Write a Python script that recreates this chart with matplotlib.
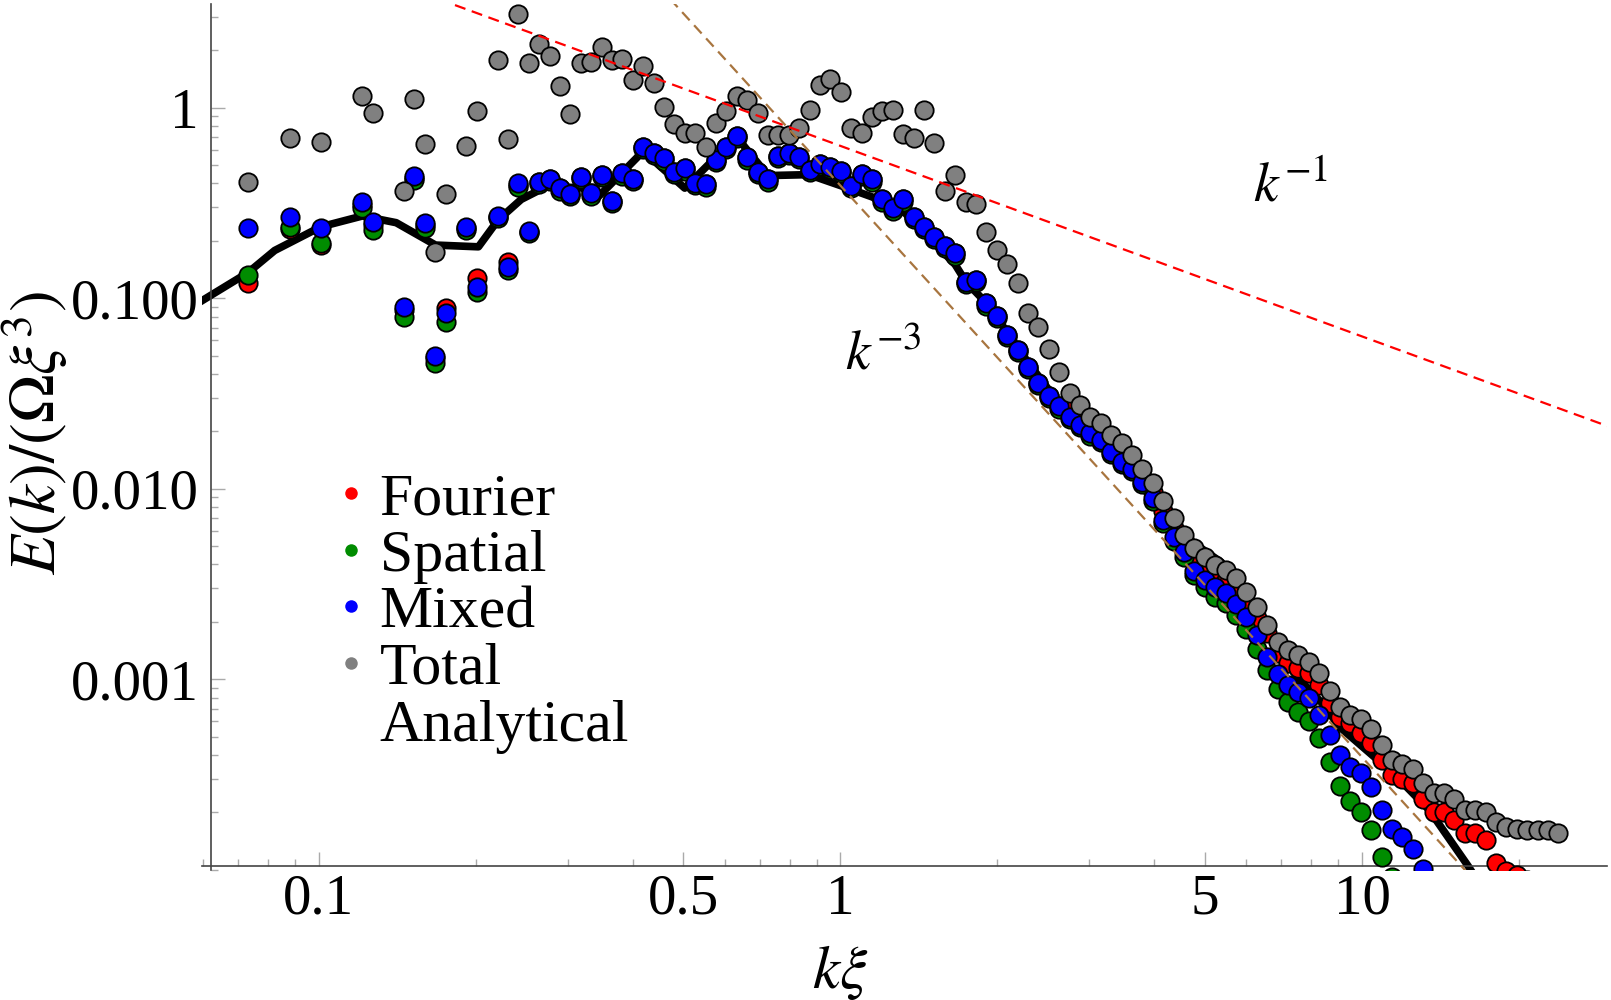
import numpy as np
import matplotlib
matplotlib.use("Agg")
import matplotlib.pyplot as plt
from matplotlib.lines import Line2D
from matplotlib.ticker import FixedLocator, NullFormatter

plt.rcParams['font.family'] = ['Liberation Serif', 'DejaVu Serif']
plt.rcParams['mathtext.fontset'] = 'stix'

# k*xi of each bin
k = [0.0731, 0.0879, 0.1009, 0.1212, 0.1269, 0.1457, 0.1525, 0.1597, 0.1672, 0.1750,
     0.1918, 0.2009, 0.2202, 0.2305, 0.2413, 0.2527, 0.2646, 0.2770, 0.2900, 0.3036,
     0.3179, 0.3328, 0.3484, 0.3648, 0.3819, 0.3999, 0.4187, 0.4383, 0.4589, 0.4805,
     0.5030, 0.5267, 0.5514, 0.5773, 0.6044, 0.6328, 0.6625, 0.6937, 0.7262, 0.7603,
     0.7961, 0.8334, 0.8726, 0.9136, 0.9565, 1.0014, 1.0485, 1.0977, 1.1493, 1.2033,
     1.2599, 1.3191, 1.3810, 1.4459, 1.5138, 1.5849, 1.6594, 1.7374, 1.8197, 1.9055,
     1.9948, 2.0883, 2.1866, 2.2891, 2.3963, 2.5093, 2.6271, 2.7510, 2.8799, 3.0151,
     3.1574, 3.3059, 3.4615, 3.6241, 3.7931, 3.9719, 4.1581, 4.3541, 4.5583, 4.7723,
     4.9974, 5.2320, 5.4789, 5.7345, 6.0036, 6.2867, 6.5809, 6.8913, 7.2144, 7.5527,
     7.9089, 8.2794, 8.6696, 9.0762, 9.5019, 9.9494, 10.416, 10.907, 11.419, 11.954,
     12.518, 13.105, 13.722, 14.366, 15.039, 15.747, 16.487, 17.264, 18.072, 18.920,
     19.816, 20.745, 21.722, 22.740, 23.806]

total = [0.406, 0.696, 0.663, 1.157, 0.942, 0.367, 1.107, 0.645, 0.174, 0.352,
         0.632, 0.961, 1.78, 0.685, 3.10, 1.71, 2.15, 1.87, 1.30, 0.927,
         1.71, 1.745, 2.09, 1.78, 1.79, 1.39, 1.655, 1.343, 1.005, 0.818,
         0.734, 0.734, 0.625, 0.828, 0.965, 1.152, 1.098, 0.942, 0.719, 0.719,
         0.719, 0.779, 0.973, 1.316, 1.409, 1.214, 0.779, 0.740, 0.897, 0.965,
         0.973, 0.728, 0.691, 0.973, 0.655, 0.367, 0.443, 0.319, 0.312, 0.2235,
         0.179, 0.152, 0.120, 0.0833, 0.0709, 0.0539, 0.0411, 0.0317, 0.0275, 0.0239,
         0.0220, 0.0191, 0.01745, 0.0150, 0.01264, 0.01067, 0.00865, 0.00699, 0.00571, 0.00486,
         0.00436, 0.00398, 0.00374, 0.00338, 0.00288, 0.00238, 0.001925, 0.001574, 0.001422, 0.001339,
         0.001236, 0.001073, 0.00087, 0.000712, 0.000649, 0.000616, 0.000545, 0.000451, 0.000376, 0.000359,
         0.000336, 0.000286, 0.000252, 0.000252, 0.000234, 0.000206, 0.000207, 0.000202, 0.000179, 0.000168,
         0.000163, 0.0001616, 0.0001616, 0.0001616, 0.0001564]

mixed = [0.2327, 0.268, 0.2327, 0.3187, 0.2523, 0.0903, 0.4397, 0.2492, 0.0497, 0.0833,
         0.2375, 0.114, 0.270, 0.1464, 0.401, 0.2262, 0.409, 0.4207, 0.3774, 0.3524,
         0.4345, 0.355, 0.4433, 0.325, 0.452, 0.4207, 0.6245, 0.5808, 0.5424, 0.4616,
         0.4806, 0.4042, 0.396, 0.5315, 0.6245, 0.710, 0.5489, 0.4616, 0.4207, 0.5578,
         0.5808, 0.5534, 0.471, 0.5064, 0.4904, 0.4654, 0.388, 0.4487, 0.4207, 0.3304,
         0.2963, 0.3304, 0.268, 0.2375, 0.2104, 0.188, 0.172, 0.1221, 0.1246, 0.094,
         0.0807, 0.0641, 0.0535, 0.0437, 0.036, 0.0307, 0.0270, 0.0239, 0.0216, 0.01953,
         0.0180, 0.01565, 0.01386, 0.0127, 0.01088, 0.0089, 0.00685, 0.00555, 0.00467, 0.00371,
         0.00332, 0.00306, 0.00282, 0.00248, 0.00211, 0.001706, 0.001313, 0.001065, 0.000932, 0.00086,
         0.000793, 0.000649, 0.000509, 0.0004, 0.000347, 0.00032, 0.000271, 0.000207, 0.000163, 0.000148,
         0.000128, 0.0001005, 0.000086, 0.000076, 0.000068, 0.00006, 0.000055, 0.00005, 0.000046, 0.000042,
         0.000039, 0.000036, 0.000034, 0.000032, 0.00003]

spatial = [0.1323, 0.2375, 0.194, 0.2963, 0.228, 0.080, 0.4174, 0.2327, 0.0455, 0.0753,
           0.228, 0.1082, 0.2627, 0.1406, 0.385, 0.2191, 0.397, 0.41, 0.367, 0.343,
           0.422, 0.345, 0.43, 0.316, 0.44, 0.41, 0.607, 0.565, 0.527, 0.449,
           0.467, 0.393, 0.385, 0.517, 0.607, 0.69, 0.534, 0.449, 0.409, 0.542,
           0.565, 0.538, 0.458, 0.492, 0.477, 0.452, 0.377, 0.436, 0.409, 0.321,
           0.288, 0.321, 0.26, 0.231, 0.204, 0.183, 0.167, 0.119, 0.121, 0.0913,
           0.0784, 0.0622, 0.052, 0.0424, 0.035, 0.0298, 0.0262, 0.0232, 0.021, 0.019,
           0.0175, 0.0152, 0.0135, 0.01243, 0.01058, 0.00865, 0.00663, 0.00534, 0.00436, 0.00352,
           0.00306, 0.00271, 0.0025, 0.00217, 0.001827, 0.001434, 0.001117, 0.000885, 0.000762, 0.000675,
           0.000606, 0.000489, 0.000369, 0.000275, 0.00023, 0.000202, 0.0001616, 0.000117, 0.000092, 0.00008,
           0.00007, 0.000062, 0.000055, 0.00005, 0.000045, 0.00004, 0.000037, 0.000034, 0.000031, 0.000029,
           0.000027, 0.000025, 0.000023, 0.000022, 0.00002]

fourier = [0.1197, 0.232, 0.19, 0.3086, 0.2423, 0.0867, 0.4258, 0.2423, 0.0484, 0.0885,
           0.2327, 0.1272, 0.268, 0.1555, 0.393, 0.2235, 0.409, 0.4207, 0.3774, 0.3524,
           0.4345, 0.355, 0.4433, 0.325, 0.452, 0.4207, 0.6245, 0.5808, 0.5424, 0.4616,
           0.4806, 0.4042, 0.396, 0.5315, 0.6245, 0.710, 0.5489, 0.4616, 0.4207, 0.5578,
           0.5808, 0.5534, 0.471, 0.5064, 0.4904, 0.4654, 0.388, 0.4487, 0.4207, 0.3304,
           0.2963, 0.3304, 0.268, 0.2375, 0.2104, 0.188, 0.172, 0.1221, 0.1246, 0.094,
           0.0807, 0.0641, 0.0535, 0.0437, 0.036, 0.0307, 0.0270, 0.027, 0.024, 0.021,
           0.0195, 0.0168, 0.0152, 0.0135, 0.0115, 0.0096, 0.0076, 0.0062, 0.0052, 0.0043,
           0.0039, 0.0035, 0.0033, 0.0029, 0.0025, 0.0021, 0.001754, 0.001367, 0.00121, 0.00114,
           0.001073, 0.000932, 0.000747, 0.000636, 0.000587, 0.00052, 0.00046, 0.000376, 0.000314, 0.000298,
           0.000284, 0.000234, 0.000202, 0.000202, 0.000182, 0.000155, 0.000155, 0.000143, 0.000108, 0.0000989,
           0.0000933, 0.000088, 0.00008, 0.000075, 0.00007]

analytic_k = [0.0597, 0.0731, 0.0823, 0.1009, 0.1212, 0.1407, 0.1674, 0.2023, 0.2206, 0.2444,
              0.273, 0.3179, 0.345, 0.4187, 0.503, 0.5773, 0.6328, 0.7262, 0.87, 1.0,
              1.15, 1.33, 1.50, 1.66, 1.74, 1.90, 2.09, 2.29, 2.51, 2.75,
              3.0, 3.3, 3.6, 4.0, 4.36, 4.75, 5.38, 7.5, 8.38, 9.07,
              11.49, 13.45, 16.0, 17.0]
analytic_E = [0.097, 0.136, 0.178, 0.237, 0.27, 0.249, 0.19, 0.186, 0.257, 0.33,
              0.385, 0.38, 0.345, 0.59, 0.378, 0.55, 0.70, 0.44, 0.445, 0.39,
              0.34, 0.28, 0.20, 0.15, 0.122, 0.095, 0.066, 0.046, 0.033, 0.025,
              0.0198, 0.016, 0.013, 0.0094, 0.0068, 0.0052, 0.0041, 0.00103, 0.00075, 0.00056,
              0.00032, 0.000206, 0.000104, 0.00008]

# power-law guides  E = A k^-n
guide_k = [0.05, 40.0]
amp_k1 = 0.63
amp_k3 = 0.39

fig = plt.figure(figsize=(16.11, 10), dpi=100)
ax = fig.add_axes([202 / 1611, 1 - 869.7 / 1000, 1405 / 1611, 865.7 / 1000])
ax.set_xscale('log')
ax.set_yscale('log')

ax.plot(analytic_k, analytic_E, color='black', lw=5.5, zorder=2)

series = [(fourier, '#ff0000'), (spatial, '#008c00'), (mixed, '#0000ff'), (total, '#808080')]
for vals, col in series:
    ax.scatter(k, vals, s=175, c=col, edgecolors='black', linewidths=1.3, zorder=3)

gk = np.array(guide_k)
ax.plot(gk, amp_k1 / gk, color='#ff0000', lw=1.6, dashes=(5, 3), zorder=5)
ax.plot(gk, amp_k3 / gk ** 3, color='#a8753f', lw=1.6, dashes=(5, 3), zorder=5)

ax.text(7.28, 0.379, r'$k^{-1}$', fontsize=40, ha='center', va='center')
ax.text(1.206, 0.0503, r'$k^{-3}$', fontsize=40, ha='center', va='center')

ax.set_xlim(0.0597, 29.5)
ax.set_ylim(1e-4, 3.5)

for s in ['top', 'right']:
    ax.spines[s].set_visible(False)
ax.spines['left'].set_position(('data', 0.0621))
ax.spines['bottom'].set_position(('data', 1.05e-4))
for s in ['left', 'bottom']:
    ax.spines[s].set_color('#444444')
    ax.spines[s].set_linewidth(1.2)

ax.xaxis.set_major_locator(FixedLocator([0.1, 0.5, 1, 5, 10]))
ax.set_xticklabels(['0.1', '0.5', '1', '5', '10'])
ax.xaxis.set_minor_locator(FixedLocator([m * 10.0 ** e for e in range(-2, 2) for m in range(2, 10)]))
ax.xaxis.set_minor_formatter(NullFormatter())
ax.yaxis.set_major_locator(FixedLocator([1e-3, 1e-2, 1e-1, 1]))
ax.set_yticklabels(['0.001', '0.010', '0.100', '1'])
ax.yaxis.set_minor_locator(FixedLocator([m * 10.0 ** e for e in range(-4, 1) for m in range(1, 10)]))
ax.yaxis.set_minor_formatter(NullFormatter())
ax.tick_params(which='both', direction='in', color='#aaaaaa', width=1, labelsize=41)
ax.tick_params(which='major', length=10)
ax.tick_params(which='minor', length=5)
ax.tick_params(axis='x', which='major', pad=6)
ax.tick_params(axis='y', which='major', pad=9)

ax.set_xlabel(r'$k\xi$', fontsize=44)
ax.xaxis.set_label_coords(0.454, -0.085)
ax.set_ylabel(r'$E(k)/(\Omega\xi^3)$', fontsize=47)
ax.yaxis.label.set_verticalalignment('center')
ax.yaxis.set_label_coords(-0.119, 0.505)

handles = [Line2D([], [], ls='none', marker='o', ms=9, mfc=c, mec='none') for c in
           ['#ff0000', '#008c00', '#0000ff', '#808080']]
handles.append(Line2D([], [], ls='none'))
ax.legend(handles, ['Fourier', 'Spatial', 'Mixed', 'Total', 'Analytical'],
          loc='upper left', bbox_to_anchor=(0.0996, 0.459), frameon=False, fontsize=43,
          handlelength=0.3, handletextpad=0.33, labelspacing=0.03, borderpad=0,
          borderaxespad=0)

fig.savefig('out.png', dpi=100)
